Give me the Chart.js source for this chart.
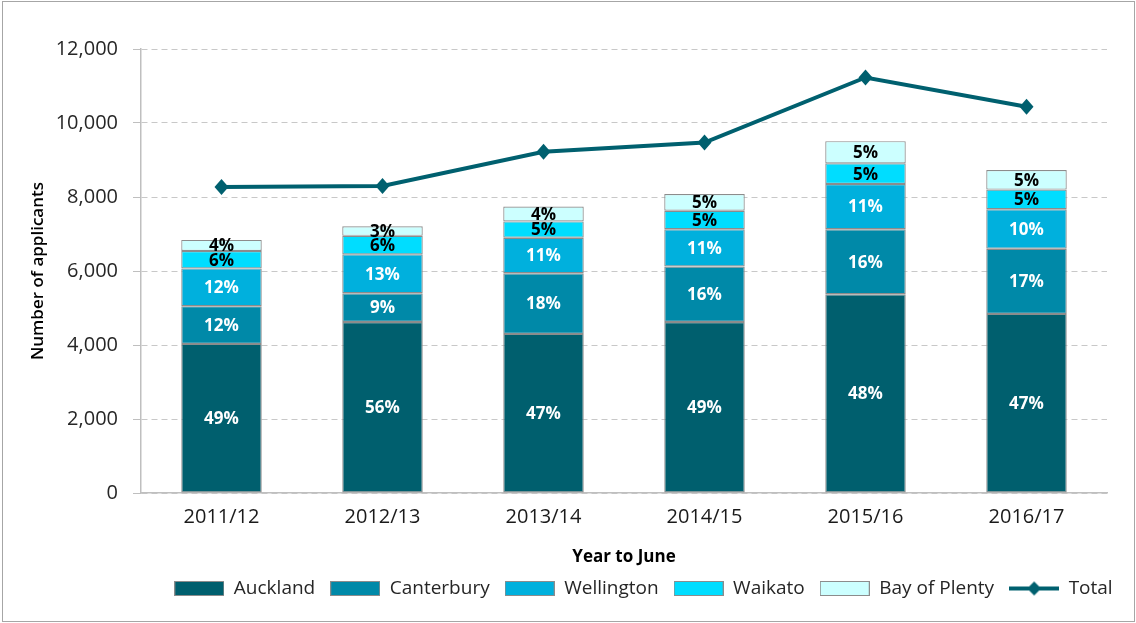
<!DOCTYPE html>
<html>
<head>
<meta charset="utf-8">
<script src="https://cdn.jsdelivr.net/npm/chart.js@4.4.1/dist/chart.umd.min.js"></script>
<style>
  body { margin: 0; background: #fff; }
  #wrap { position: relative; width: 1136px; height: 623px; }
  #frame { position: absolute; left: 2px; top: 1px; width: 1133px; height: 621px; box-sizing: border-box; border: 1px solid #a6a6a6; pointer-events: none; }
</style>
</head>
<body>
<div id="wrap">
  <canvas id="applicantsChart" width="1136" height="623"></canvas>
  <div id="frame"></div>
</div>
<script>
const years = ['2011/12', '2012/13', '2013/14', '2014/15', '2015/16', '2016/17'];

const auckland   = [4030, 4620, 4300, 4620, 5370, 4840];
const canterbury = [1020, 780, 1640, 1500, 1760, 1760];
const wellington = [1020, 1050, 960, 1010, 1220, 1070];
const waikato    = [470, 500, 440, 500, 560, 530];
const bayOfPlenty = [300, 260, 400, 450, 600, 530];
const total      = [8270, 8300, 9220, 9470, 11230, 10440];

// share of the total, as printed on each segment
const aucklandPct   = ['49%', '56%', '47%', '49%', '48%', '47%'];
const canterburyPct = ['12%', '9%', '18%', '16%', '16%', '17%'];
const wellingtonPct = ['12%', '13%', '11%', '11%', '11%', '10%'];
const waikatoPct    = ['6%', '6%', '5%', '5%', '5%', '5%'];
const bayPct        = ['4%', '3%', '4%', '5%', '5%', '5%'];

const yTicks = [0, 2000, 4000, 6000, 8000, 10000, 12000];

const colAuckland = '#005f6e';
const colCanterbury = '#0089a8';
const colWellington = '#00b0dd';
const colWaikato = '#00ddff';
const colBay = '#ccffff';
const colTotal = '#00606f';
const colEdge = '#8c8c8c';

const fontFamily = '"Open Sans", sans-serif';

// legend swatches
function swatch(color) {
    const c = document.createElement('canvas');
    c.width = 50; c.height = 15;
    const g = c.getContext('2d');
    g.fillStyle = color;
    g.fillRect(0.5, 0.5, 49, 14);
    g.strokeStyle = colEdge;
    g.lineWidth = 1;
    g.strokeRect(0.5, 0.5, 49, 14);
    return c;
}
function lineSwatch(color) {
    const c = document.createElement('canvas');
    c.width = 50; c.height = 16;
    const g = c.getContext('2d');
    g.strokeStyle = color;
    g.lineWidth = 4;
    g.beginPath(); g.moveTo(0, 8); g.lineTo(50, 8); g.stroke();
    g.fillStyle = color;
    g.beginPath(); g.moveTo(25, 1); g.lineTo(32, 8); g.lineTo(25, 15); g.lineTo(18, 8); g.closePath(); g.fill();
    return c;
}

function barSet(label, data, color, pct, textColor) {
    return {
        type: 'bar',
        label: label,
        data: data,
        pct: pct,
        textColor: textColor,
        backgroundColor: color,
        borderColor: colEdge,
        borderWidth: 1.2,
        borderSkipped: false,
        pointStyle: swatch(color),
        stack: 'regions',
        order: 1,
        barPercentage: 0.5,
        categoryPercentage: 1
    };
}

const segmentLabels = {
    id: 'segmentLabels',
    afterDatasetsDraw(chart) {
        const ctx = chart.ctx;
        ctx.save();
        ctx.font = 'bold 17px ' + fontFamily;
        ctx.textAlign = 'center';
        ctx.textBaseline = 'middle';
        chart.data.datasets.forEach((ds, i) => {
            if (!ds.pct) return;
            ctx.fillStyle = ds.textColor;
            chart.getDatasetMeta(i).data.forEach((bar, j) => {
                ctx.fillText(ds.pct[j], bar.x, (bar.y + bar.base) / 2 + 1);
            });
        });
        ctx.restore();
    }
};

const ctx = document.getElementById('applicantsChart').getContext('2d');
new Chart(ctx, {
    data: {
        labels: years,
        datasets: [
            barSet('Auckland', auckland, colAuckland, aucklandPct, '#ffffff'),
            barSet('Canterbury', canterbury, colCanterbury, canterburyPct, '#ffffff'),
            barSet('Wellington', wellington, colWellington, wellingtonPct, '#ffffff'),
            barSet('Waikato', waikato, colWaikato, waikatoPct, '#000000'),
            barSet('Bay of Plenty', bayOfPlenty, colBay, bayPct, '#000000'),
            {
                type: 'line',
                label: 'Total',
                data: total,
                borderColor: colTotal,
                backgroundColor: colTotal,
                borderWidth: 4,
                pointStyle: lineSwatch(colTotal),
                pointRadius: 0,
                tension: 0,
                order: 0
            }
        ]
    },
    plugins: [segmentLabels, {
        id: 'diamonds',
        afterDatasetsDraw(chart) {
            // diamond markers on the total line
            const ctx = chart.ctx;
            const meta = chart.getDatasetMeta(5);
            ctx.save();
            ctx.fillStyle = colTotal;
            meta.data.forEach(p => {
                ctx.beginPath();
                ctx.moveTo(p.x, p.y - 8); ctx.lineTo(p.x + 7, p.y);
                ctx.lineTo(p.x, p.y + 8); ctx.lineTo(p.x - 7, p.y);
                ctx.closePath(); ctx.fill();
            });
            ctx.restore();
        }
    }, {
        id: 'legendShift',
        afterLayout(chart) {
            // legend row sits right of centre in the original
            chart.legend.left += 90;
            chart.legend.right += 90;
            chart.legend.top -= 5;
            chart.legend.bottom -= 5;
        }
    }],
    options: {
        responsive: false,
        animation: false,
        layout: { padding: { top: 49, right: 29, bottom: 10, left: 0 } },
        plugins: {
            tooltip: { enabled: false },
            legend: {
                position: 'bottom',
                labels: {
                    usePointStyle: true,
                    pointStyleWidth: 50,
                    padding: 15,
                    color: '#262626',
                    font: { family: fontFamily, size: 19 },
                    sort: (a, b) => a.datasetIndex - b.datasetIndex
                }
            }
        },
        scales: {
            x: {
                stacked: true,
                grid: { display: false, drawTicks: false },
                border: { display: true, color: '#bfbfbf', width: 1.5 },
                ticks: { color: '#1a1a1a', padding: 12, font: { family: fontFamily, size: 20 } },
                title: {
                    display: true,
                    text: 'Year to June',
                    color: '#000',
                    padding: { top: 0, bottom: 2 },
                    font: { family: fontFamily, size: 17, weight: 'bold' }
                },
                afterFit(scale) { scale.height = 76; }
            },
            y: {
                stacked: true,
                min: 0,
                max: 12000,
                afterBuildTicks(scale) { scale.ticks = yTicks.map(v => ({ value: v })); },
                grid: { color: '#c8c8c8', tickColor: '#bfbfbf', tickLength: 8, tickBorderDash: [] },
                border: { display: true, color: '#bfbfbf', width: 1.5, dash: [6, 4] },
                ticks: {
                    color: '#262626',
                    padding: 15,
                    font: { family: fontFamily, size: 20 },
                    callback: v => v.toLocaleString('en-US')
                },
                title: {
                    display: true,
                    text: 'Number of applicants',
                    color: '#000',
                    padding: { top: 28, bottom: 0 },
                    font: { family: fontFamily, size: 17, weight: '600' }
                },
                afterFit(scale) { scale.width = 141; }
            }
        }
    }
});
</script>
</body>
</html>
